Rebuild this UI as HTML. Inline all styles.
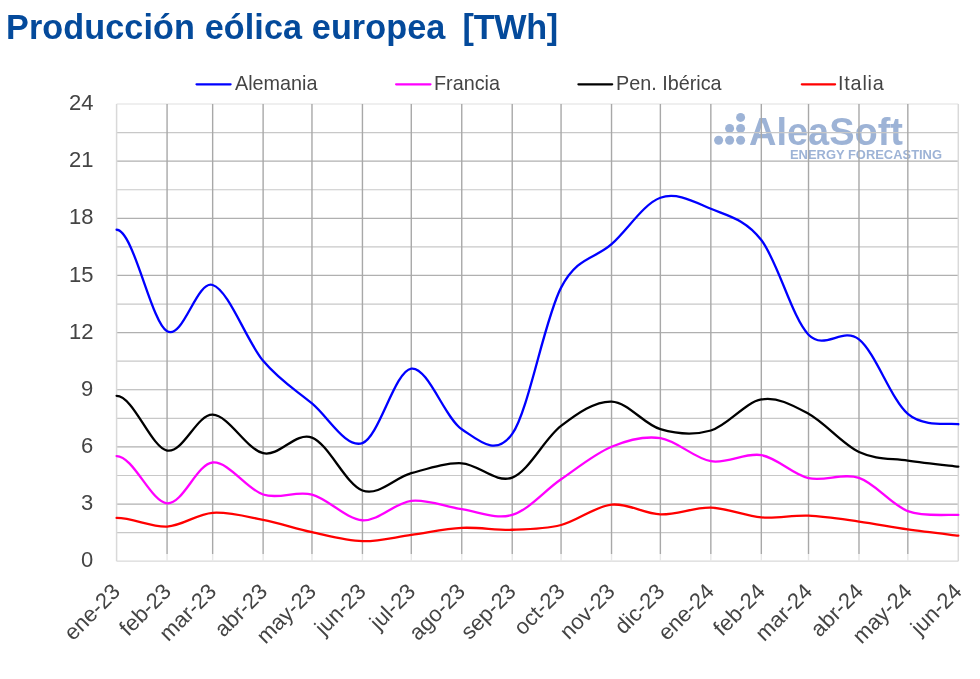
<!DOCTYPE html>
<html><head><meta charset="utf-8">
<style>
html,body{margin:0;padding:0;background:#fff;}
body{width:980px;height:679px;position:relative;overflow:hidden;font-family:"Liberation Sans",sans-serif;}
.title{position:absolute;left:6px;top:7px;font-weight:bold;font-size:34.2px;letter-spacing:0.1px;color:#044a9b;white-space:nowrap;line-height:40px;}
svg{position:absolute;left:0;top:0;}
.yl{position:absolute;right:886.7px;height:0;line-height:0;font-size:22px;color:#444444;white-space:nowrap;}
.yl span{display:block;}
.xl{position:absolute;width:0;height:0;font-size:22px;color:#444444;white-space:nowrap;}
.xl span{position:absolute;right:0;top:0;transform-origin:100% 50%;transform:translateY(-50%) rotate(-45deg);line-height:22px;}
.leg{position:absolute;top:72px;font-size:19.8px;color:#444444;white-space:nowrap;line-height:22px;}
.logo{position:absolute;}
.title,.leg,.yl{will-change:transform;}
</style></head><body>
<div class="title">Producción eólica europea <span style="margin-left:7.5px;letter-spacing:-0.3px">[TWh]</span></div>
<svg width="980" height="679" viewBox="0 0 980 679">
<g id="logo" fill="#9db3d6">
<circle cx="718.6" cy="140.2" r="4.5"/><circle cx="729.6" cy="140.2" r="4.5"/><circle cx="740.6" cy="140.2" r="4.5"/>
<circle cx="729.6" cy="128.4" r="4.5"/><circle cx="740.6" cy="128.4" r="4.5"/>
<circle cx="740.6" cy="117.4" r="4.5"/>
<text x="749" y="145" font-family="Liberation Sans" font-weight="bold" font-size="39" textLength="154" lengthAdjust="spacingAndGlyphs">AleaSoft</text>
<text x="790" y="158.5" font-family="Liberation Sans" font-weight="bold" font-size="13" textLength="152" lengthAdjust="spacingAndGlyphs">ENERGY FORECASTING</text>
</g>
<line x1="116.6" y1="561.20" x2="958.3" y2="561.20" stroke="#d9d9d9" stroke-width="1.2"/>
<line x1="116.6" y1="532.62" x2="958.3" y2="532.62" stroke="#c8c8c8" stroke-width="1.2"/>
<line x1="116.6" y1="504.05" x2="958.3" y2="504.05" stroke="#b0b0b0" stroke-width="1.2"/>
<line x1="116.6" y1="475.48" x2="958.3" y2="475.48" stroke="#c8c8c8" stroke-width="1.2"/>
<line x1="116.6" y1="446.90" x2="958.3" y2="446.90" stroke="#b0b0b0" stroke-width="1.2"/>
<line x1="116.6" y1="418.33" x2="958.3" y2="418.33" stroke="#c8c8c8" stroke-width="1.2"/>
<line x1="116.6" y1="389.75" x2="958.3" y2="389.75" stroke="#b0b0b0" stroke-width="1.2"/>
<line x1="116.6" y1="361.18" x2="958.3" y2="361.18" stroke="#c8c8c8" stroke-width="1.2"/>
<line x1="116.6" y1="332.60" x2="958.3" y2="332.60" stroke="#b0b0b0" stroke-width="1.2"/>
<line x1="116.6" y1="304.03" x2="958.3" y2="304.03" stroke="#c8c8c8" stroke-width="1.2"/>
<line x1="116.6" y1="275.45" x2="958.3" y2="275.45" stroke="#b0b0b0" stroke-width="1.2"/>
<line x1="116.6" y1="246.88" x2="958.3" y2="246.88" stroke="#c8c8c8" stroke-width="1.2"/>
<line x1="116.6" y1="218.30" x2="958.3" y2="218.30" stroke="#b0b0b0" stroke-width="1.2"/>
<line x1="116.6" y1="189.73" x2="958.3" y2="189.73" stroke="#c8c8c8" stroke-width="1.2"/>
<line x1="116.6" y1="161.15" x2="958.3" y2="161.15" stroke="#b0b0b0" stroke-width="1.2"/>
<line x1="116.6" y1="132.58" x2="958.3" y2="132.58" stroke="#c8c8c8" stroke-width="1.2"/>
<line x1="116.6" y1="104.00" x2="958.3" y2="104.00" stroke="#e0e0e0" stroke-width="1.2"/>
<line x1="116.60" y1="104.00" x2="116.60" y2="561.20" stroke="#d9d9d9" stroke-width="1.5"/>
<line x1="167.07" y1="104.00" x2="167.07" y2="554.00" stroke="#a8a8a8" stroke-width="1.4"/>
<line x1="167.07" y1="554" x2="167.07" y2="561.20" stroke="#e8e8e8" stroke-width="1.4"/>
<line x1="212.65" y1="104.00" x2="212.65" y2="554.00" stroke="#a8a8a8" stroke-width="1.4"/>
<line x1="212.65" y1="554" x2="212.65" y2="561.20" stroke="#e8e8e8" stroke-width="1.4"/>
<line x1="263.12" y1="104.00" x2="263.12" y2="554.00" stroke="#a8a8a8" stroke-width="1.4"/>
<line x1="263.12" y1="554" x2="263.12" y2="561.20" stroke="#e8e8e8" stroke-width="1.4"/>
<line x1="311.97" y1="104.00" x2="311.97" y2="554.00" stroke="#a8a8a8" stroke-width="1.4"/>
<line x1="311.97" y1="554" x2="311.97" y2="561.20" stroke="#e8e8e8" stroke-width="1.4"/>
<line x1="362.44" y1="104.00" x2="362.44" y2="554.00" stroke="#a8a8a8" stroke-width="1.4"/>
<line x1="362.44" y1="554" x2="362.44" y2="561.20" stroke="#e8e8e8" stroke-width="1.4"/>
<line x1="411.28" y1="104.00" x2="411.28" y2="554.00" stroke="#a8a8a8" stroke-width="1.4"/>
<line x1="411.28" y1="554" x2="411.28" y2="561.20" stroke="#e8e8e8" stroke-width="1.4"/>
<line x1="461.75" y1="104.00" x2="461.75" y2="554.00" stroke="#a8a8a8" stroke-width="1.4"/>
<line x1="461.75" y1="554" x2="461.75" y2="561.20" stroke="#e8e8e8" stroke-width="1.4"/>
<line x1="512.22" y1="104.00" x2="512.22" y2="554.00" stroke="#a8a8a8" stroke-width="1.4"/>
<line x1="512.22" y1="554" x2="512.22" y2="561.20" stroke="#e8e8e8" stroke-width="1.4"/>
<line x1="561.06" y1="104.00" x2="561.06" y2="554.00" stroke="#a8a8a8" stroke-width="1.4"/>
<line x1="561.06" y1="554" x2="561.06" y2="561.20" stroke="#e8e8e8" stroke-width="1.4"/>
<line x1="611.53" y1="104.00" x2="611.53" y2="554.00" stroke="#a8a8a8" stroke-width="1.4"/>
<line x1="611.53" y1="554" x2="611.53" y2="561.20" stroke="#e8e8e8" stroke-width="1.4"/>
<line x1="660.37" y1="104.00" x2="660.37" y2="554.00" stroke="#a8a8a8" stroke-width="1.4"/>
<line x1="660.37" y1="554" x2="660.37" y2="561.20" stroke="#e8e8e8" stroke-width="1.4"/>
<line x1="710.84" y1="104.00" x2="710.84" y2="554.00" stroke="#a8a8a8" stroke-width="1.4"/>
<line x1="710.84" y1="554" x2="710.84" y2="561.20" stroke="#e8e8e8" stroke-width="1.4"/>
<line x1="761.31" y1="104.00" x2="761.31" y2="554.00" stroke="#a8a8a8" stroke-width="1.4"/>
<line x1="761.31" y1="554" x2="761.31" y2="561.20" stroke="#e8e8e8" stroke-width="1.4"/>
<line x1="808.52" y1="104.00" x2="808.52" y2="554.00" stroke="#a8a8a8" stroke-width="1.4"/>
<line x1="808.52" y1="554" x2="808.52" y2="561.20" stroke="#e8e8e8" stroke-width="1.4"/>
<line x1="858.99" y1="104.00" x2="858.99" y2="554.00" stroke="#a8a8a8" stroke-width="1.4"/>
<line x1="858.99" y1="554" x2="858.99" y2="561.20" stroke="#e8e8e8" stroke-width="1.4"/>
<line x1="907.83" y1="104.00" x2="907.83" y2="554.00" stroke="#a8a8a8" stroke-width="1.4"/>
<line x1="907.83" y1="554" x2="907.83" y2="561.20" stroke="#e8e8e8" stroke-width="1.4"/>
<line x1="958.30" y1="104.00" x2="958.30" y2="561.20" stroke="#d9d9d9" stroke-width="1.5"/>
<path d="M116.60,517.96 C133.42,517.96 151.06,527.39 167.07,526.53 C183.08,525.67 196.65,513.92 212.65,512.81 C228.66,511.70 246.57,516.62 263.12,519.86 C279.68,523.10 295.41,528.69 311.97,532.24 C328.52,535.80 345.88,540.75 362.44,541.20 C378.99,541.64 394.72,537.13 411.28,534.91 C427.83,532.69 444.92,528.72 461.75,527.86 C478.57,527.01 495.66,530.24 512.22,529.77 C528.77,529.29 544.50,529.20 561.06,525.00 C577.61,520.81 594.97,506.40 611.53,504.62 C628.08,502.84 643.82,513.83 660.37,514.34 C676.92,514.85 694.01,507.16 710.84,507.67 C727.66,508.18 745.03,516.05 761.31,517.38 C777.59,518.72 792.24,514.97 808.52,515.67 C824.80,516.37 842.44,519.29 858.99,521.58 C875.54,523.86 891.28,527.04 907.83,529.39 C924.38,531.74 949.89,534.63 958.30,535.67" fill="none" stroke="#ff0000" stroke-width="2.3" stroke-linecap="round" stroke-linejoin="round"/>
<path d="M116.60,456.04 C133.42,456.04 151.06,502.21 167.07,503.29 C183.08,504.37 196.65,463.98 212.65,462.52 C228.66,461.06 246.57,489.19 263.12,494.53 C279.68,499.86 295.41,490.24 311.97,494.53 C328.52,498.81 345.88,519.19 362.44,520.24 C378.99,521.29 394.72,502.65 411.28,500.81 C427.83,498.97 444.92,506.84 461.75,509.19 C478.57,511.54 495.66,519.89 512.22,514.91 C528.77,509.92 544.50,490.65 561.06,479.29 C577.61,467.92 594.97,453.57 611.53,446.71 C628.08,439.85 643.82,435.72 660.37,438.14 C676.92,440.55 694.01,458.36 710.84,461.19 C727.66,464.01 745.03,452.27 761.31,455.09 C777.59,457.92 792.24,474.33 808.52,478.14 C824.80,481.95 842.44,472.46 858.99,477.95 C875.54,483.44 891.28,504.94 907.83,511.10 C924.38,517.26 949.89,514.27 958.30,514.91" fill="none" stroke="#ff00ff" stroke-width="2.3" stroke-linecap="round" stroke-linejoin="round"/>
<path d="M116.60,395.85 C133.42,395.85 151.06,447.38 167.07,450.52 C183.08,453.66 196.65,414.26 212.65,414.71 C228.66,415.15 246.57,449.38 263.12,453.19 C279.68,457.00 295.41,431.34 311.97,437.57 C328.52,443.79 345.88,484.59 362.44,490.52 C378.99,496.46 394.72,477.73 411.28,473.19 C427.83,468.65 444.92,462.55 461.75,463.28 C478.57,464.01 495.66,483.79 512.22,477.57 C528.77,471.35 544.50,438.61 561.06,425.95 C577.61,413.28 594.97,401.02 611.53,401.56 C628.08,402.10 643.82,424.36 660.37,429.18 C676.92,434.01 694.01,435.47 710.84,430.52 C727.66,425.56 745.03,402.26 761.31,399.47 C777.59,396.67 792.24,404.99 808.52,413.75 C824.80,422.52 842.44,444.23 858.99,452.04 C875.54,459.85 891.28,458.17 907.83,460.62 C924.38,463.06 949.89,465.70 958.30,466.71" fill="none" stroke="#000000" stroke-width="2.3" stroke-linecap="round" stroke-linejoin="round"/>
<path d="M116.60,229.73 C133.42,229.73 151.06,322.06 167.07,331.27 C183.08,340.47 196.65,280.05 212.65,284.98 C228.66,289.90 246.57,341.05 263.12,360.79 C279.68,380.54 295.41,389.75 311.97,403.47 C328.52,417.18 345.88,448.90 362.44,443.09 C378.99,437.28 394.72,370.92 411.28,368.60 C427.83,366.29 444.92,418.29 461.75,429.18 C478.57,440.07 495.66,457.54 512.22,433.95 C528.77,410.36 544.50,319.27 561.06,287.64 C577.61,256.02 594.97,259.19 611.53,244.21 C628.08,229.22 643.82,203.63 660.37,197.73 C676.92,191.82 694.01,201.73 710.84,208.78 C727.66,215.82 745.03,219.03 761.31,240.02 C777.59,261.00 792.24,318.12 808.52,334.70 C824.80,351.27 842.44,326.25 858.99,339.46 C875.54,352.67 891.28,399.81 907.83,413.94 C924.38,428.07 949.89,422.52 958.30,424.23" fill="none" stroke="#0000ff" stroke-width="2.3" stroke-linecap="round" stroke-linejoin="round"/>
<g stroke-width="2.2" stroke-linecap="round">
<line x1="196.5" y1="84.3" x2="230.6" y2="84.3" stroke="#0000ff"/>
<line x1="396.1" y1="84.3" x2="430.5" y2="84.3" stroke="#ff00ff"/>
<line x1="578.4" y1="84.3" x2="612.2" y2="84.3" stroke="#000000"/>
<line x1="801.8" y1="84.3" x2="835.1" y2="84.3" stroke="#ff0000"/>
</g>
</svg>
<div class="leg" style="left:235px">Alemania</div>
<div class="leg" style="left:433.5px">Francia</div>
<div class="leg" style="left:616px">Pen. Ibérica</div>
<div class="leg" style="left:838px;letter-spacing:0.8px">Italia</div>
<div class="yl" style="top:560.2px"><span>0</span></div>
<div class="yl" style="top:503.1px"><span>3</span></div>
<div class="yl" style="top:445.9px"><span>6</span></div>
<div class="yl" style="top:388.8px"><span>9</span></div>
<div class="yl" style="top:331.6px"><span>12</span></div>
<div class="yl" style="top:274.5px"><span>15</span></div>
<div class="yl" style="top:217.3px"><span>18</span></div>
<div class="yl" style="top:160.2px"><span>21</span></div>
<div class="yl" style="top:103.0px"><span>24</span></div>
<div class="xl" style="left:116.8px;top:588.0px"><span>ene-23</span></div>
<div class="xl" style="left:167.3px;top:588.0px"><span>feb-23</span></div>
<div class="xl" style="left:212.9px;top:588.0px"><span>mar-23</span></div>
<div class="xl" style="left:263.3px;top:588.0px"><span>abr-23</span></div>
<div class="xl" style="left:312.2px;top:588.0px"><span>may-23</span></div>
<div class="xl" style="left:362.6px;top:588.0px"><span>jun-23</span></div>
<div class="xl" style="left:411.5px;top:588.0px"><span>jul-23</span></div>
<div class="xl" style="left:461.9px;top:588.0px"><span>ago-23</span></div>
<div class="xl" style="left:512.4px;top:588.0px"><span>sep-23</span></div>
<div class="xl" style="left:561.3px;top:588.0px"><span>oct-23</span></div>
<div class="xl" style="left:611.7px;top:588.0px"><span>nov-23</span></div>
<div class="xl" style="left:660.6px;top:588.0px"><span>dic-23</span></div>
<div class="xl" style="left:711.0px;top:588.0px"><span>ene-24</span></div>
<div class="xl" style="left:761.5px;top:588.0px"><span>feb-24</span></div>
<div class="xl" style="left:808.7px;top:588.0px"><span>mar-24</span></div>
<div class="xl" style="left:859.2px;top:588.0px"><span>abr-24</span></div>
<div class="xl" style="left:908.0px;top:588.0px"><span>may-24</span></div>
<div class="xl" style="left:958.5px;top:588.0px"><span>jun-24</span></div>
</body></html>
